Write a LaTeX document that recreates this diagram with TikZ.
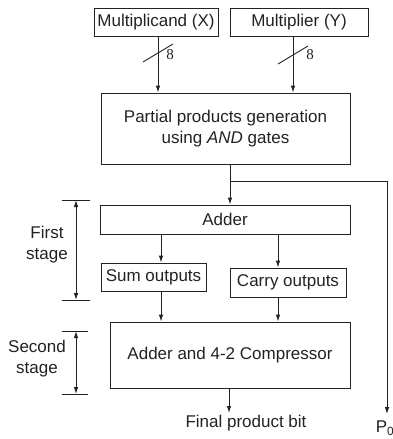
\documentclass[tikz,border=0pt]{standalone}
\usepackage{fontspec}
\setmainfont{Liberation Sans}
\newfontfamily\numfont{Liberation Serif}
\usetikzlibrary{arrows.meta}
\definecolor{ink}{HTML}{222222}
\begin{document}
\begin{tikzpicture}[x=1pt,y=-1pt,
  every node/.style={text=ink, font=\fontsize{17}{21}\selectfont},
  box/.style={draw=ink, line width=0.9pt, inner sep=0pt, align=center},
  arr/.style={draw=ink, line width=0.9pt, -{Latex[length=7pt,width=4.5pt]}},
  dim/.style={draw=ink, line width=0.9pt, {Latex[length=7pt,width=4.5pt]}-{Latex[length=7pt,width=4.5pt]}},
  tick/.style={draw=ink, line width=0.9pt},
  lbl/.style={align=center, inner sep=0pt}]
\useasboundingbox (0,0) rectangle (393,439);
% boxes
\node[box, minimum width=124pt, minimum height=28pt] (mc) at (156,22) {Multiplicand (X)};
\node[box, minimum width=138pt, minimum height=28pt] (my) at (299,22) {Multiplier (Y)};
\node[box, minimum width=249pt, minimum height=71pt] (pp) at (225.5,128.5) {Partial products generation\\using \textit{AND} gates};
\node[box, minimum width=250pt, minimum height=29pt] (ad) at (225,219.5) {Adder};
\node[box, minimum width=105pt, minimum height=28pt] (so) at (153.5,277) {Sum outputs};
\node[box, minimum width=116pt, minimum height=29pt] (co) at (288,282.5) {Carry outputs};
\node[box, minimum width=240pt, minimum height=66pt] (cp) at (230,355) {Adder and 4-2 Compressor};
% inputs
\draw[arr] ([xshift=2pt]mc.south) -- ([xshift=2pt]mc.south |- pp.north);
\draw[arr] ([xshift=-6pt]my.south) -- ([xshift=-6pt]my.south |- pp.north);
\draw[tick] (143,62) -- (173,44);
\draw[tick] (278,64) -- (308,46);
\node[lbl, font=\numfont\fontsize{15}{15}\selectfont] (n1) at (170,55) {8};
\node[lbl, font=\numfont\fontsize{15}{15}\selectfont] (n2) at (310,55) {8};
% partial -> adder, branch to P0
\coordinate (j) at ([xshift=4.5pt]pp.south |- 0,181);
\coordinate (p0e) at (387,414);
\draw[arr] ([xshift=4.5pt]pp.south) -- ([xshift=4.5pt]pp.south |- ad.north);
\draw[arr] (j) -| (p0e);
\node[lbl] (p0) at (385,428) {P\textsubscript{0}};
% adder -> outputs
\draw[arr] ([xshift=7.5pt]so.north |- ad.south) -- ([xshift=7.5pt]so.north);
\draw[arr] ([xshift=-10pt]co.north |- ad.south) -- ([xshift=-10pt]co.north);
% outputs -> compressor
\draw[arr] ([xshift=7.5pt]so.south) -- ([xshift=7.5pt]so.south |- cp.north);
\draw[arr] ([xshift=-10pt]co.south) -- ([xshift=-10pt]co.south |- cp.north);
% final
\coordinate (fe) at ([xshift=-1pt]cp.south |- 0,413);
\draw[arr] ([xshift=-1pt]cp.south) -- (fe);
\node[lbl] (fp) at (246,423) {Final product bit};
% stage dimensions
\coordinate (s1t) at (76,200);
\coordinate (s1b) at (76,300);
\draw[tick] (62,200) -- (90,200);
\draw[tick] (62,300) -- (90,300);
\draw[dim] (s1t) -- (s1b);
\node[lbl] (fs) at (47,245) {First\\stage};
\coordinate (s2t) at (76,331);
\coordinate (s2b) at (76,394);
\draw[tick] (62,331) -- (88,331);
\draw[tick] (62,394) -- (88,394);
\draw[dim] (s2t) -- (s2b);
\node[lbl] (ss) at (37,359) {Second\\stage};
\end{tikzpicture}
\end{document}
